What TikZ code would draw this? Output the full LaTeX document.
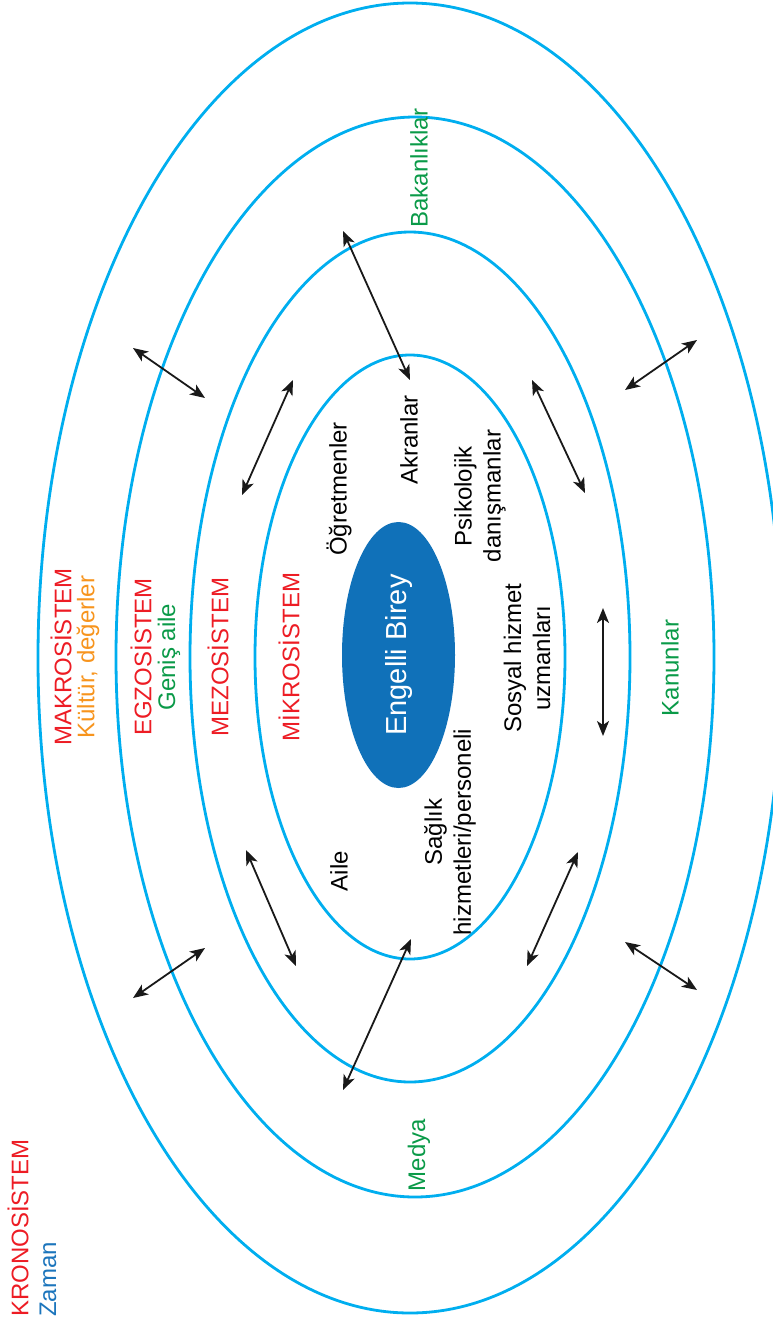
\documentclass[tikz,border=0pt]{standalone}
\usepackage{fontspec}
\setmainfont{Liberation Sans}
\usetikzlibrary{arrows.meta,shapes.geometric}
\definecolor{ringblue}{HTML}{00AEEF}
\definecolor{coreblue}{HTML}{1071B9}
\definecolor{sysred}{HTML}{ED1C24}
\definecolor{valorange}{HTML}{F7941D}
\definecolor{instgreen}{HTML}{0A9A48}
\definecolor{timeblue}{HTML}{1C75BC}
\tikzset{every node/.style={font=\fontsize{24}{29}\selectfont, rotate=90, inner sep=0pt}}
\tikzset{ring/.style={draw=ringblue, line width=2.8pt}}
\tikzset{link/.style={<->, >={Stealth[length=15pt,width=12pt,inset=4pt]}, line width=1.8pt, color=black!90}}
\tikzset{core/.style={ellipse, fill=coreblue, text=white, minimum width=266pt, minimum height=113pt, font=\fontsize{29}{34}\selectfont}}

\begin{document}
\begin{tikzpicture}[line cap=round,line join=round,x=1pt,y=-1pt]
            \useasboundingbox (0,0) rectangle (772,1318);
            % rings
            \draw [ring] (410,658) ellipse [x radius=372, y radius=655];
            \draw [ring] (415,657) ellipse [x radius=299, y radius=540];
            \draw [ring] (410,657) ellipse [x radius=220, y radius=425];
            \draw [ring] (410,657) ellipse [x radius=155, y radius=302];
            \node [core] (birey) at (398.5,655) {Engelli Birey};
            % system names
            \node [anchor=west, text=sysred] (krono) at (18,1317) {KRONOSİSTEM};
            \node [anchor=west, text=timeblue] (zaman) at (48,1317) {Zaman};
            \node [text=sysred] (makro) at (61,657) {MAKROSİSTEM};
            \node [text=valorange] (kultur) at (88,657) {Kültür, değerler};
            \node [text=sysred] (egzo) at (141,657) {EGZOSİSTEM};
            \node [text=instgreen] (genis) at (169,657) {Geniş aile};
            \node [text=sysred] (mezo) at (218,657) {MEZOSİSTEM};
            \node [text=sysred] (mikro) at (289,657) {MİKROSİSTEM};
            % microsystem members
            \node (ogretmen) at (339,489) {Öğretmenler};
            \node (akran) at (409,440) {Akranlar};
            \node [align=center] (psiko) at (480,496) {Psikolojik\\danışmanlar};
            \node [align=center] (sosyal) at (527,658) {Sosyal hizmet\\uzmanları};
            \node [align=center] (saglik) at (450,832) {Sağlık\\hizmetleri/personeli};
            \node (aile) at (339,871) {Aile};
            % institutions
            \node [text=instgreen] (bakan) at (419,168) {Bakanlıklar};
            \node [text=instgreen] (medya) at (419,1155) {Medya};
            \node [text=instgreen] (kanun) at (670,668) {Kanunlar};
            % arrow ends
            \coordinate (a1) at (133,348); \coordinate (b1) at (205,398);
            \coordinate (a2) at (293,380); \coordinate (b2) at (242,495);
            \coordinate (a3) at (343,231); \coordinate (b3) at (410,380);
            \coordinate (a4) at (532,380); \coordinate (b4) at (585,493);
            \coordinate (a5) at (697,340); \coordinate (b5) at (625,390);
            \coordinate (a6) at (603,608); \coordinate (b6) at (603,736);
            \coordinate (a7) at (246,850); \coordinate (b7) at (296,966);
            \coordinate (a8) at (133,998); \coordinate (b8) at (205,948);
            \coordinate (a9) at (411,939); \coordinate (b9) at (343,1090);
            \coordinate (a10) at (578,852); \coordinate (b10) at (527,966);
            \coordinate (a11) at (625,942); \coordinate (b11) at (697,990);
            \draw [link] (a1) -- (b1);
            \draw [link] (a2) -- (b2);
            \draw [link] (a3) -- (b3);
            \draw [link] (a4) -- (b4);
            \draw [link] (a5) -- (b5);
            \draw [link] (a6) -- (b6);
            \draw [link] (a7) -- (b7);
            \draw [link] (a8) -- (b8);
            \draw [link] (a9) -- (b9);
            \draw [link] (a10) -- (b10);
            \draw [link] (a11) -- (b11);
\end{tikzpicture}
\end{document}
